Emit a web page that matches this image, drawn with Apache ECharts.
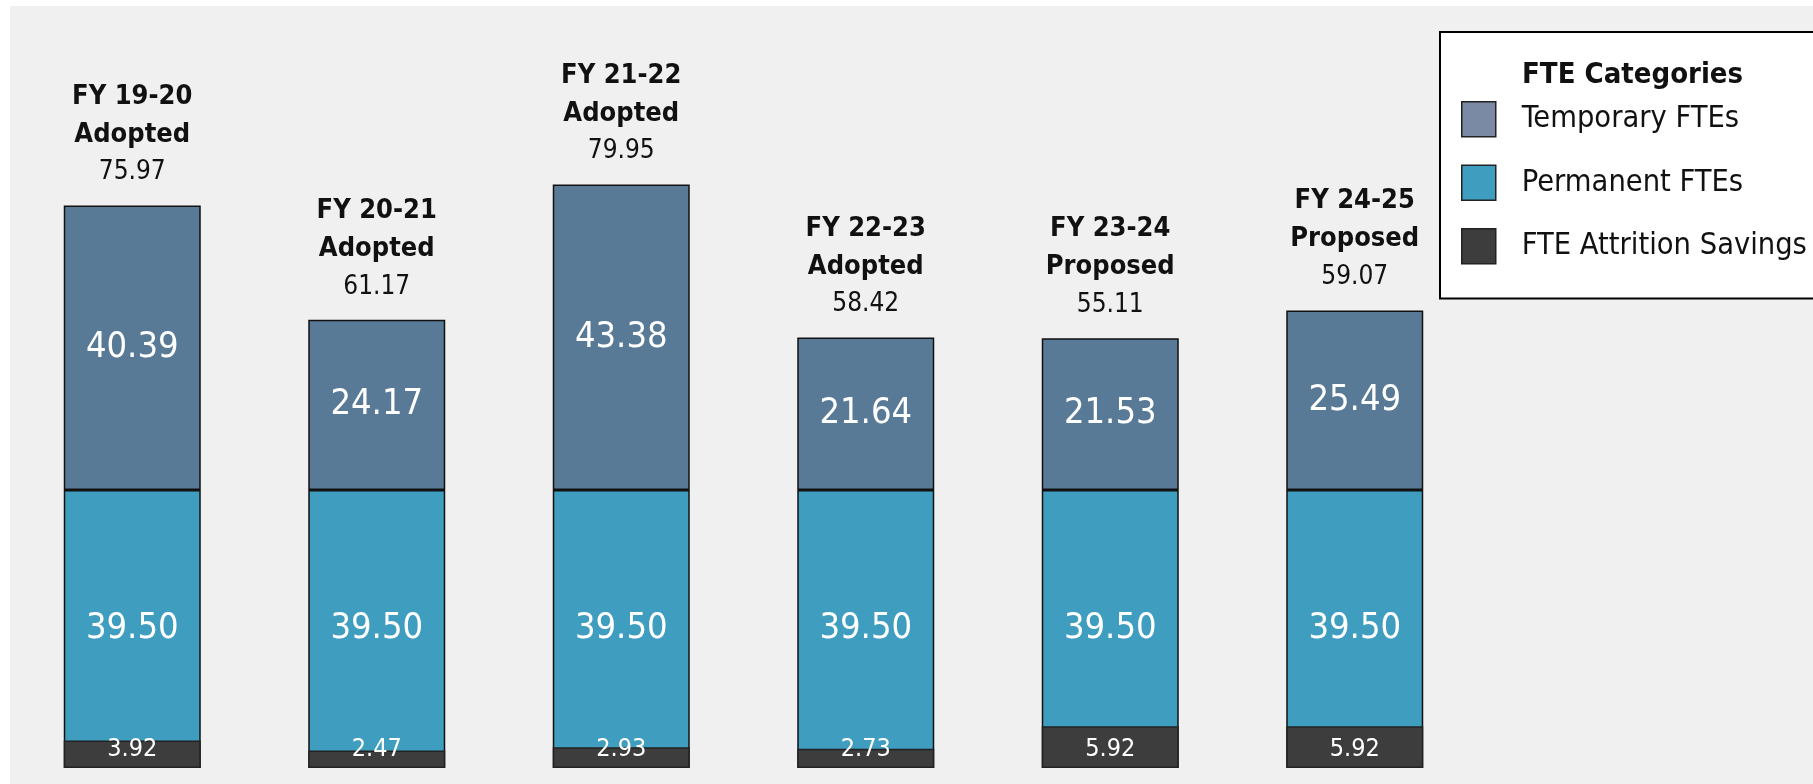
<!DOCTYPE html>
<html>
<head>
<meta charset="utf-8">
<script src="https://cdn.jsdelivr.net/npm/echarts@6/dist/echarts.min.js"></script>
<style>
html,body{margin:0;padding:0;background:#ffffff;}
#chart{width:1813px;height:784px;}
</style>
</head>
<body>
<div id="chart"></div>
<script>
const fiscalYears = ['FY 19-20', 'FY 20-21', 'FY 21-22', 'FY 22-23', 'FY 23-24', 'FY 24-25'];
const budgetStages = ['Adopted', 'Adopted', 'Adopted', 'Adopted', 'Proposed', 'Proposed'];
const temporaryFTEs = [40.39, 24.17, 43.38, 21.64, 21.53, 25.49];
const permanentFTEs = [39.50, 39.50, 39.50, 39.50, 39.50, 39.50];
const attritionSavings = [3.92, 2.47, 2.93, 2.73, 5.92, 5.92];
const totalFTEs = [75.97, 61.17, 79.95, 58.42, 55.11, 59.07];

const FONT = "'Liberation Sans Narrow', 'Arial Narrow', 'DejaVu Sans Condensed', sans-serif";
const categories = fiscalYears.map((y, i) => y + ' ' + budgetStages[i]);

const chart = echarts.init(document.getElementById('chart'), null, {renderer: 'canvas'});
const segBorder = {borderColor: '#111', borderWidth: 1.5};

chart.setOption({
  animation: false,
  backgroundColor: '#ffffff',
  textStyle: {fontFamily: FONT},
  graphic: [{
    type: 'rect', silent: true, z: -10,
    shape: {x: 10, y: 6, width: 1803, height: 778},
    style: {fill: '#f0f0f0'}
  }],
  title: {
    text: 'FTE Categories',
    left: 1517, top: 56,
    z: 10,
    textStyle: {fontFamily: FONT, fontSize: 29, fontWeight: 'bold', color: '#111'}
  },
  legend: {
    orient: 'vertical',
    left: 1440, top: 32,
    padding: [69, 300, 34, 21],
    backgroundColor: '#ffffff',
    borderColor: '#000', borderWidth: 2,
    itemWidth: 34, itemHeight: 35, itemGap: 27,
    icon: 'rect',
    selectedMode: false,
    textStyle: {fontFamily: FONT, fontSize: 30.5, color: '#111', padding: [0, 0, 0, 21]},
    data: [
      {name: 'Temporary FTEs', itemStyle: {color: '#7a8aa4', borderColor: '#222', borderWidth: 1.5}},
      {name: 'Permanent FTEs', itemStyle: {color: '#3f9dbf', borderColor: '#222', borderWidth: 1.5}},
      {name: 'FTE Attrition Savings', itemStyle: {color: '#3d3d3d', borderColor: '#222', borderWidth: 1.5}}
    ]
  },
  grid: {left: 10, right: 336, top: 64, bottom: 16},
  xAxis: {type: 'category', data: categories, show: false},
  yAxis: {type: 'value', min: 0, max: 100, show: false},
  series: [
    {
      name: 'Permanent FTEs', type: 'bar', stack: 'fte', barWidth: 137, barGap: '-100%',
      data: permanentFTEs,
      itemStyle: Object.assign({color: '#3f9dbf'}, segBorder),
      label: {show: true, position: 'inside', color: '#fff', fontFamily: FONT, fontSize: 36,
        formatter: p => p.value.toFixed(2)}
    },
    {
      name: 'Temporary FTEs', type: 'bar', stack: 'fte', barWidth: 137, barGap: '-100%',
      data: temporaryFTEs,
      itemStyle: Object.assign({color: '#587a96'}, segBorder),
      label: {show: true, position: 'inside', color: '#fff', fontFamily: FONT, fontSize: 36,
        formatter: p => p.value.toFixed(2)}
    },
    {
      name: 'Totals', type: 'bar', stack: 'fte', barWidth: 137, barGap: '-100%', silent: true,
      data: temporaryFTEs.map(() => 0),
      itemStyle: {color: 'rgba(0,0,0,0)', borderWidth: 0},
      label: {
        show: true, position: 'top', distance: 14,
        formatter: p => '{b|' + fiscalYears[p.dataIndex] + '}\n{b|' + budgetStages[p.dataIndex] + '}\n{v|' + totalFTEs[p.dataIndex].toFixed(2) + '}',
        rich: {
          b: {fontFamily: FONT, fontSize: 27, fontWeight: 'bold', color: '#111', lineHeight: 38},
          v: {fontFamily: FONT, fontSize: 26, color: '#111', lineHeight: 38}
        }
      }
    },
    {
      name: 'FTE Attrition Savings', type: 'bar', stack: 'attr', barWidth: 137, barGap: '-100%',
      data: attritionSavings, z: 3,
      itemStyle: {color: '#3d3d3d', borderColor: '#222', borderWidth: 1.5},
      label: {show: true, position: 'insideBottom', distance: 6, color: '#fff', fontFamily: FONT, fontSize: 25,
        formatter: p => p.value.toFixed(2)}
    }
  ]
});
</script>
</body>
</html>
